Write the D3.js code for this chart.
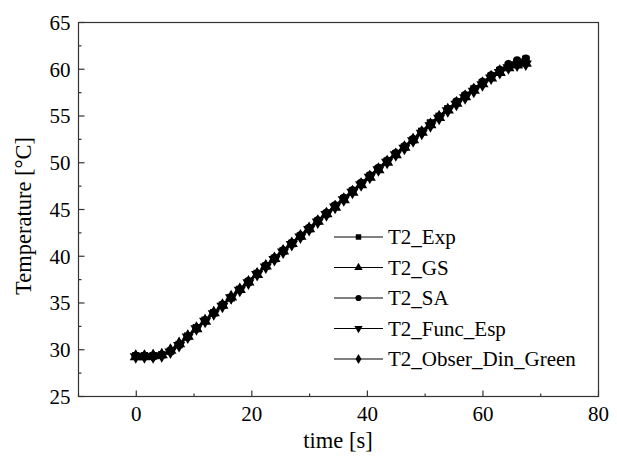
<!DOCTYPE html>
<html>
<head>
<meta charset="utf-8">
<script src="https://cdn.jsdelivr.net/npm/d3@7"></script>
</head>
<body style="margin:0">
<div id="chart"></div>
<script>
// time axis samples [s]
const time = [0,1.5,3,4.5,6,7.5,9,10.5,12,13.5,15,16.5,18,19.5,21,22.5,24,25.5,27,28.5,30,31.5,33,34.5,36,37.5,39,40.5,42,43.5,45,46.5,48,49.5,51,52.5,54,55.5,57,58.5,60,61.5,63,64.5,66,67.5];

// temperature series [°C]
const tExp   = [29.3,29.3,29.3,29.4,29.8,30.5,31.4,32.3,33.1,33.9,34.7,35.5,36.4,37.2,38.1,38.9,39.7,40.5,41.3,42.1,42.9,43.7,44.5,45.3,46.1,46.9,47.7,48.5,49.3,50.1,50.9,51.6,52.4,53.3,54.2,54.9,55.7,56.4,57.1,57.8,58.5,59.2,59.8,60.3,60.7,61.0];
const tGS    = [29.2,29.2,29.3,29.4,29.9,30.6,31.4,32.2,33.0,33.9,34.7,35.6,36.4,37.2,38.0,38.9,39.7,40.5,41.3,42.1,42.9,43.7,44.5,45.2,46.0,46.8,47.6,48.4,49.2,50.0,50.8,51.6,52.4,53.2,54.0,54.8,55.6,56.3,57.0,57.7,58.4,59.0,59.6,60.1,60.4,60.6];
const tSA    = [29.3,29.3,29.2,29.4,29.8,30.5,31.3,32.2,33.1,33.9,34.8,35.6,36.4,37.3,38.1,38.9,39.8,40.6,41.4,42.2,43.0,43.8,44.6,45.4,46.2,47.0,47.8,48.6,49.4,50.2,51.0,51.7,52.5,53.3,54.1,54.9,55.7,56.5,57.2,57.9,58.6,59.3,59.9,60.5,60.9,61.1];
const tFunc  = [29.2,29.2,29.2,29.3,29.7,30.4,31.3,32.2,33.0,33.8,34.6,35.5,36.3,37.1,38.0,38.8,39.6,40.4,41.2,42.0,42.8,43.6,44.4,45.2,46.0,46.8,47.6,48.4,49.2,50.0,50.8,51.5,52.3,53.1,53.9,54.7,55.5,56.2,56.9,57.6,58.3,59.0,59.6,60.1,60.4,60.5];
const tObs   = [29.3,29.3,29.3,29.4,29.9,30.6,31.4,32.3,33.1,33.9,34.7,35.5,36.4,37.2,38.1,38.9,39.7,40.5,41.3,42.1,42.9,43.7,44.5,45.3,46.1,46.9,47.7,48.5,49.3,50.1,50.9,51.6,52.4,53.2,54.1,54.9,55.6,56.4,57.1,57.8,58.5,59.2,59.8,60.3,60.6,60.8];

const seriesNames = ["T2_Exp","T2_GS","T2_SA","T2_Func_Esp","T2_Obser_Din_Green"];
const seriesValues = [tExp, tGS, tSA, tFunc, tObs];

const xTicks = [0,20,40,60,80];
const xMinor = [-10,10,30,50,70];
const yTicks = [25,30,35,40,45,50,55,60,65];
const yMinor = [27.5,32.5,37.5,42.5,47.5,52.5,57.5,62.5];

/** SIZING */
let width = 617, height = 465;
let plotLeft = 78, plotRight = 598, plotTop = 22, plotBottom = 396;
let axisColor = "#333";
let font = "Liberation Serif";
let fontSize = 21;
let titleSize = 22.5;

let svg = d3.select("#chart").append("svg")
  .attr("width", width)
  .attr("height", height)
  .attr("font-family", font);

let x = d3.scaleLinear().domain([-10, 80]).range([plotLeft, plotRight]);
let y = d3.scaleLinear().domain([25, 65]).range([plotBottom, plotTop]);

/** FRAME */
svg.append("rect")
  .attr("x", plotLeft + 0.5).attr("y", plotTop + 0.5)
  .attr("width", plotRight - plotLeft).attr("height", plotBottom - plotTop)
  .style("fill", "none").style("stroke", axisColor).style("stroke-width", 1.2);

/** AXES (ticks point inward) */
let xAxis = svg.append("g").attr("transform", `translate(0,${plotBottom + 0.5})`)
  .call(d3.axisBottom(x).tickValues(xTicks).tickSize(-6).tickPadding(10).tickFormat(d3.format("d")));
let xAxisMinor = svg.append("g").attr("transform", `translate(0,${plotBottom + 0.5})`)
  .call(d3.axisBottom(x).tickValues(xMinor).tickSize(-3).tickFormat(""));
let yAxis = svg.append("g").attr("transform", `translate(${plotLeft + 0.5},0)`)
  .call(d3.axisLeft(y).tickValues(yTicks).tickSize(-6).tickPadding(8).tickFormat(d3.format("d")));
let yAxisMinor = svg.append("g").attr("transform", `translate(${plotLeft + 0.5},0)`)
  .call(d3.axisLeft(y).tickValues(yMinor).tickSize(-3).tickFormat(""));

[xAxis, xAxisMinor, yAxis, yAxisMinor].forEach(g=>{
  g.attr("font-family", font).attr("font-size", fontSize);
  g.select(".domain").remove();
  g.selectAll("line").style("stroke", axisColor).style("stroke-width", 1.2);
  g.selectAll("text").attr("font-family", font).attr("font-size", fontSize).attr("fill", "#000");
});
yAxis.selectAll("text").attr("dy", "0.35em");

/** TITLES */
svg.append("text")
  .attr("x", (plotLeft + plotRight) / 2).attr("y", 448)
  .attr("text-anchor", "middle")
  .attr("font-family", font).attr("font-size", titleSize)
  .text("time [s]");
svg.append("text")
  .attr("transform", `translate(31,216) rotate(-90)`)
  .attr("text-anchor", "middle")
  .attr("font-family", font).attr("font-size", titleSize)
  .text("Temperature [°C]");

/** MARKERS */
const symbolTypes = [d3.symbolSquare, d3.symbolTriangle, d3.symbolCircle, d3.symbolTriangle, d3.symbolDiamond];
const symbolSizes = [56, 64, 50, 64, 48];
const rotations = [0, 0, 0, 180, 0];

let line = d3.line().x(d=>x(d[0])).y(d=>y(d[1]));

seriesValues.forEach((vals, i)=>{
  let pts = time.map((t, j)=>[t, vals[j]]);
  let g = svg.append("g").attr("class", "series");
  g.append("path")
    .attr("d", line(pts))
    .style("fill", "none").style("stroke", "#000").style("stroke-width", 1.5);
  g.selectAll("path.m")
    .data(pts).enter()
    .append("path")
    .attr("class", "m")
    .attr("d", d3.symbol().type(symbolTypes[i]).size(symbolSizes[i])())
    .attr("transform", d=>`translate(${x(d[0])},${y(d[1])}) rotate(${rotations[i]})`)
    .style("fill", "#000");
});

/** LEGEND */
let legend = svg.append("g").attr("id", "legend");
let legendY0 = 237, legendStep = 30.5;
seriesNames.forEach((name, i)=>{
  let ly = legendY0 + i * legendStep;
  legend.append("line")
    .attr("x1", 334).attr("x2", 383)
    .attr("y1", ly).attr("y2", ly)
    .style("stroke", "#000").style("stroke-width", 1);
  legend.append("path")
    .attr("d", d3.symbol().type(symbolTypes[i]).size(30)())
    .attr("transform", `translate(358.5,${ly}) rotate(${rotations[i]})`)
    .style("fill", "#000");
  legend.append("text")
    .attr("x", 388).attr("y", ly + 7)
    .attr("font-family", font).attr("font-size", fontSize)
    .text(name);
});
</script>
</body>
</html>
